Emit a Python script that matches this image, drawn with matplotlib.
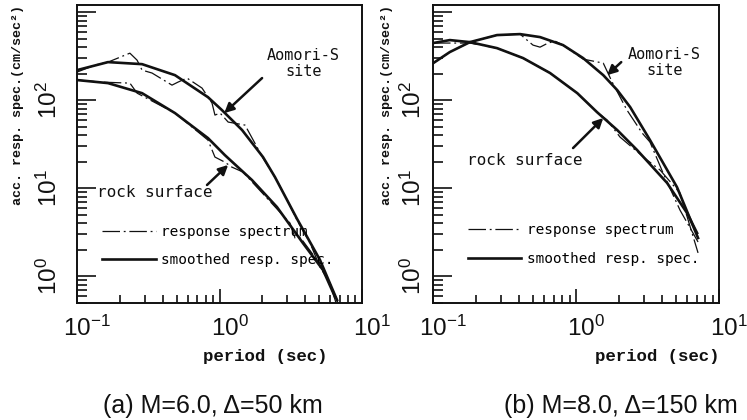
import matplotlib
matplotlib.use('Agg')
import numpy as np
import matplotlib.pyplot as plt
from matplotlib import font_manager
from matplotlib.lines import Line2D
from matplotlib.ticker import FixedLocator, FixedFormatter, LogLocator, NullFormatter
from matplotlib.transforms import ScaledTranslation

_names = {f.name for f in font_manager.fontManager.ttflist}
SANS = 'Liberation Sans' if 'Liberation Sans' in _names else 'DejaVu Sans'
MONO = 'DejaVu Sans Mono'
SLAB = 'Liberation Mono' if 'Liberation Mono' in _names else 'DejaVu Sans Mono'

plt.rcParams['mathtext.fontset'] = 'custom'
plt.rcParams['mathtext.rm'] = SANS
plt.rcParams['mathtext.it'] = SANS
plt.rcParams['mathtext.bf'] = SANS

INK = '#111111'
DASH = (14, 3, 1.5, 3)

# ---- (a) M=6.0, delta=50 km -------------------------------------------
a_site_sm_T = [0.1, 0.165, 0.286, 0.487, 0.83, 1.04, 1.44, 2.02, 2.45, 3.50, 5.07, 6.68]
a_site_sm_A = [219, 270, 256, 192, 108, 77.1, 45.8, 22.6, 13.4, 4.5, 1.54, 0.54]
a_rock_sm_T = [0.1, 0.165, 0.286, 0.487, 0.83, 1.09, 1.69, 2.53, 3.85, 5.33, 6.47]
a_rock_sm_A = [169, 156, 120, 71.3, 37.1, 23.8, 12.4, 6.13, 2.39, 1.18, 0.585]
a_site_rs_T = [0.1, 0.134, 0.165, 0.235, 0.264, 0.286, 0.336, 0.464, 0.511, 0.591,
               0.754, 0.886, 0.929, 1.01, 1.15, 1.51, 1.77, 2.02, 2.45, 2.79,
               2.98, 3.50, 4.32, 5.07, 5.96, 6.79]
a_site_rs_A = [208, 250, 270, 341, 284, 219, 203, 148, 160, 178,
               137, 92.6, 67.7, 71.3, 56.4, 52.1, 32.6, 22.0, 13.4, 9.07,
               7.36, 4.36, 2.39, 1.28, 0.84, 0.5]
a_rock_rs_T = [0.1, 0.150, 0.235, 0.264, 0.487, 0.830, 0.929, 1.09, 1.22, 1.46,
               3.12, 3.39, 3.67, 4.83, 5.96, 6.79]
a_rock_rs_A = [169, 160, 156, 120, 71.3, 35.2, 22.6, 19.8, 17.4, 15.3,
               4.04, 2.73, 2.80, 1.54, 0.84, 0.42]

# ---- (b) M=8.0, delta=150 km ------------------------------------------
b_site_sm_T = [0.1, 0.131, 0.181, 0.280, 0.406, 0.560, 0.811, 1.12, 1.55, 1.94,
               2.39, 3.29, 5.08, 7.13]
b_site_sm_A = [262, 351, 455, 547, 561, 519, 421, 300, 192, 130,
               83.4, 35.2, 10.3, 2.73]
b_rock_sm_T = [0.1, 0.131, 0.181, 0.280, 0.426, 0.658, 1.02, 1.40, 1.94, 2.67,
               4.33, 5.97, 7.02]
b_rock_sm_A = [444, 480, 455, 389, 300, 203, 120, 73.2, 45.8, 27.2,
               11.5, 5.24, 3.11]
b_site_rs_T = [0.1, 0.131, 0.181, 0.280, 0.406, 0.454, 0.500, 0.560, 0.637, 0.713,
               0.811, 1.12, 1.55, 1.79, 2.27, 2.90, 3.29, 4.06, 5.33, 7.13]
b_site_rs_A = [262, 351, 455, 547, 561, 480, 421, 399, 444, 467,
               421, 292, 263, 160, 77.1, 42.3, 33.4, 14.9, 5.66, 2.46]
b_rock_rs_T = [0.1, 0.181, 0.280, 0.426, 0.658, 1.02, 1.40, 1.65, 2.03, 3.14,
               3.87, 5.33, 7.13]
b_rock_rs_A = [444, 444, 389, 300, 203, 120, 73.2, 59.4, 38.1, 20.9,
               16.1, 8.83, 1.85]

x_ticks = [0.1, 1, 10]
x_ticklabels = [r'$10^{-1}$', r'$10^{0}$', r'$10^{1}$']
y_ticks = [1, 10, 100, 1000]
y_ticklabels = [r'$10^{0}$', r'$10^{1}$', r'$10^{2}$', '']

fig = plt.figure(figsize=(7.47, 4.20), dpi=100)
axA = fig.add_axes([0.1031, 0.2786, 0.3815, 0.7095])
axB = fig.add_axes([0.5797, 0.2786, 0.3829, 0.7095])

panels = [
    dict(ax=axA, site_sm=(a_site_sm_T, a_site_sm_A), rock_sm=(a_rock_sm_T, a_rock_sm_A),
         site_rs=(a_site_rs_T, a_site_rs_A), rock_rs=(a_rock_rs_T, a_rock_rs_A),
         ypad=11, site_txt=(0.667, 0.856), site_arrow=((1.08, 71.3), (1.99, 178)),
         rock_txt=(0.070, 0.372), rock_arrow=((1.15, 18.4), (0.817, 10.9)),
         leg=(0.088, 0.262), ylab_x=18, xlab_x=265, cap_x=213,
         caption='(a) M=6.0, Δ=50 km'),
    dict(ax=axB, site_sm=(b_site_sm_T, b_site_sm_A), rock_sm=(b_rock_sm_T, b_rock_sm_A),
         site_rs=(b_site_rs_T, b_site_rs_A), rock_rs=(b_rock_rs_T, b_rock_rs_A),
         ypad=5, site_txt=(0.682, 0.859), site_arrow=((1.65, 192), (2.07, 270)),
         rock_txt=(0.119, 0.477), rock_arrow=((1.55, 62.7), (0.953, 28.6)),
         leg=(0.122, 0.268), ylab_x=387, xlab_x=657, cap_x=621,
         caption='(b) M=8.0, Δ=150 km'),
]

shift_right = ScaledTranslation(10 / 100, 0, fig.dpi_scale_trans)

for p in panels:
    ax = p['ax']
    ax.set_xscale('log')
    ax.set_yscale('log')

    ax.plot(*p['rock_sm'], color=INK, lw=1.9, solid_joinstyle='round')
    ax.plot(*p['site_sm'], color=INK, lw=1.9, solid_joinstyle='round')
    ax.plot(*p['rock_rs'], color=INK, lw=0.9, dashes=DASH)
    ax.plot(*p['site_rs'], color=INK, lw=0.9, dashes=DASH)

    ax.set_xlim(0.1, 10)
    ax.set_ylim(0.5, 1200)

    ax.xaxis.set_major_locator(FixedLocator(x_ticks))
    ax.xaxis.set_major_formatter(FixedFormatter(x_ticklabels))
    ax.xaxis.set_minor_locator(LogLocator(base=10, subs=np.arange(2, 10)))
    ax.xaxis.set_minor_formatter(NullFormatter())
    ax.yaxis.set_major_locator(FixedLocator(y_ticks))
    ax.yaxis.set_major_formatter(FixedFormatter(y_ticklabels))
    ax.yaxis.set_minor_locator(LogLocator(base=10, subs=np.arange(2, 10)))
    ax.yaxis.set_minor_formatter(NullFormatter())

    ax.tick_params(which='both', direction='in', top=False, right=False,
                   color=INK, width=1.2)
    ax.tick_params(axis='x', which='major', length=10)
    ax.tick_params(axis='x', which='minor', length=6)
    ax.tick_params(axis='y', which='major', length=14)
    ax.tick_params(axis='y', which='minor', length=7.5)
    ax.tick_params(axis='x', which='major', labelsize=17.5, pad=9, labelcolor=INK)
    ax.tick_params(axis='y', which='major', labelsize=17.5, pad=p['ypad'],
                   labelrotation=90, labelcolor=INK)
    for lab in ax.get_yticklabels():
        lab.set_va('center')
    for lab in ax.get_xticklabels():
        lab.set_transform(lab.get_transform() + shift_right)
    for sp in ax.spines.values():
        sp.set_linewidth(1.4)
        sp.set_color(INK)

    ax.text(*p['site_txt'], 'Aomori-S\nsite', transform=ax.transAxes,
            ha='left', va='top', multialignment='center', linespacing=1.05,
            fontsize=11, family=MONO, color=INK)
    ax.text(*p['rock_txt'], 'rock surface', transform=ax.transAxes,
            ha='left', va='center', fontsize=11.5, family=MONO, color=INK)
    for head, tail in (p['site_arrow'], p['rock_arrow']):
        ax.annotate('', xy=head, xytext=tail,
                    arrowprops=dict(arrowstyle='-|>', lw=1.8, color=INK,
                                    mutation_scale=14, shrinkA=0, shrinkB=0))

    handles = [Line2D([], [], color=INK, lw=0.9, dashes=DASH),
               Line2D([], [], color=INK, lw=1.9)]
    ax.legend(handles, ['response spectrum', 'smoothed resp. spec.'],
              loc='upper left', bbox_to_anchor=p['leg'], frameon=False,
              handlelength=3.7, handletextpad=0.4, labelspacing=1.0,
              borderpad=0, borderaxespad=0,
              prop={'family': MONO, 'size': 10.4})

    fig.text(p['ylab_x'] / 747, 1 - 105 / 420, 'acc. resp. spec.(cm/sec²)',
             rotation=90, ha='center', va='center', fontsize=9.6,
             family=SLAB, fontweight='bold', color=INK)
    fig.text(p['xlab_x'] / 747, 1 - 357 / 420, 'period (sec)',
             ha='center', va='center', fontsize=12.5, family=SLAB,
             fontweight='bold', color=INK)
    fig.text(p['cap_x'] / 747, 1 - 406 / 420, p['caption'],
             ha='center', va='center', fontsize=18, family=SANS, color=INK)

fig.savefig('out.png', dpi=100)
